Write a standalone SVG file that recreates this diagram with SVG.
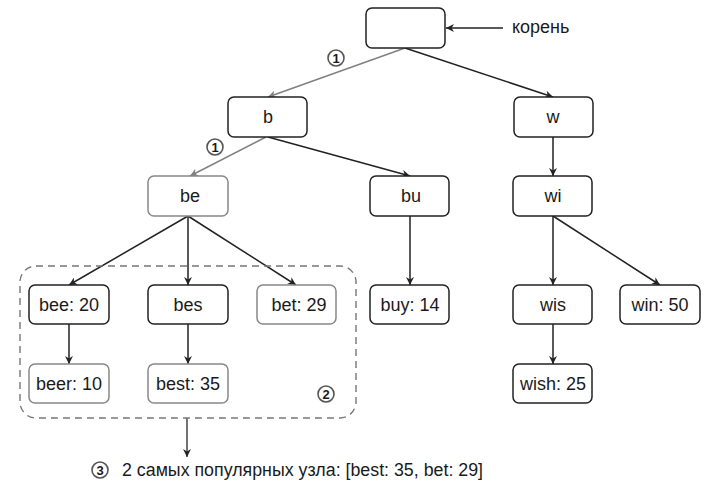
<svg xmlns="http://www.w3.org/2000/svg" width="707" height="488" viewBox="0 0 707 488">
<style>
text{font-family:"Liberation Sans",Arial,sans-serif;fill:#1a1a1a}
.n rect{fill:#fff;stroke:#222;stroke-width:1.5}
.g rect{stroke:#888}
.n text{font-size:18px;text-anchor:middle}
.e{stroke:#222;stroke-width:1.5;fill:none;marker-end:url(#ab)}
.eg{stroke:#808080;stroke-width:1.5;fill:none;marker-end:url(#ag)}
.c circle{fill:#fff;stroke:#555;stroke-width:1.6}
.c text{font-size:13px;font-weight:bold;text-anchor:middle}
</style>
<defs>
<marker id="ab" viewBox="0 0 10 10" refX="10" refY="5" markerWidth="8" markerHeight="8" markerUnits="userSpaceOnUse" orient="auto"><path d="M0,0 L10,5 L0,10 L3,5 z" fill="#222"/></marker>
<marker id="ag" viewBox="0 0 10 10" refX="10" refY="5" markerWidth="8" markerHeight="8" markerUnits="userSpaceOnUse" orient="auto"><path d="M0,0 L10,5 L0,10 L3,5 z" fill="#808080"/></marker>
</defs>
<g id="connectors">
<line class="e" x1="503" y1="28" x2="446" y2="28"/>
<line class="eg" x1="405" y1="48" x2="268" y2="97"/>
<line class="e" x1="405" y1="48" x2="553" y2="97"/>
<line class="eg" x1="266" y1="137" x2="190" y2="176"/>
<line class="e" x1="268" y1="137" x2="410" y2="176"/>
<line class="e" x1="553" y1="137" x2="553" y2="176"/>
<line class="e" x1="188" y1="216" x2="69" y2="285"/>
<line class="e" x1="188" y1="216" x2="188" y2="285"/>
<line class="e" x1="188" y1="216" x2="296" y2="285"/>
<line class="e" x1="69" y1="324" x2="69" y2="364"/>
<line class="e" x1="188" y1="324" x2="188" y2="364"/>
<line class="e" x1="410" y1="216" x2="410" y2="285"/>
<line class="e" x1="553" y1="216" x2="553" y2="285"/>
<line class="e" x1="553" y1="216" x2="660" y2="285"/>
<line class="e" x1="553" y1="324" x2="553" y2="364"/>
<line x1="187" y1="418" x2="187" y2="457" stroke="#444" stroke-width="1.5" marker-end="url(#ab)"/>
</g>
<rect id="group-box" x="20" y="266" width="336" height="152" rx="16" fill="none" stroke="#777" stroke-width="1.4" stroke-dasharray="7,5"/>
<g id="root" class="n"><rect x="366" y="8" width="79" height="40" rx="6"/></g>
<text x="512" y="33" font-size="18">корень</text>
<g id="n-b" class="n"><rect x="228" y="97" width="79" height="40" rx="6"/><text x="268" y="123">b</text></g>
<g id="n-w" class="n"><rect x="514" y="97" width="79" height="40" rx="6"/><text x="553" y="123">w</text></g>
<g id="n-be" class="n g"><rect x="148" y="176" width="80" height="40" rx="6"/><text x="190" y="202">be</text></g>
<g id="n-bu" class="n"><rect x="370" y="176" width="79" height="40" rx="6"/><text x="411" y="202">bu</text></g>
<g id="n-wi" class="n"><rect x="513" y="176" width="79" height="40" rx="6"/><text x="553" y="202">wi</text></g>
<g id="n-bee" class="n"><rect x="29" y="285" width="80" height="39" rx="6"/><text x="69" y="311">bee: 20</text></g>
<g id="n-bes" class="n"><rect x="148" y="285" width="80" height="39" rx="6"/><text x="188" y="311">bes</text></g>
<g id="n-bet" class="n g"><rect x="257" y="285" width="79" height="39" rx="6"/><text x="299" y="311">bet: 29</text></g>
<g id="n-buy" class="n"><rect x="370" y="285" width="79" height="39" rx="6"/><text x="410" y="311">buy: 14</text></g>
<g id="n-wis" class="n"><rect x="513" y="285" width="79" height="39" rx="6"/><text x="553" y="311">wis</text></g>
<g id="n-win" class="n"><rect x="620" y="285" width="80" height="39" rx="6"/><text x="660" y="311">win: 50</text></g>
<g id="n-beer" class="n g"><rect x="29" y="364" width="80" height="39" rx="6"/><text x="69" y="390">beer: 10</text></g>
<g id="n-best" class="n g"><rect x="148" y="364" width="80" height="39" rx="6"/><text x="188" y="390">best: 35</text></g>
<g id="n-wish" class="n"><rect x="513" y="364" width="79" height="39" rx="6"/><text x="553" y="390">wish: 25</text></g>
<g id="mark1a" class="c"><circle cx="336" cy="58" r="8"/><text x="336" y="62.5">1</text></g>
<g id="mark1b" class="c"><circle cx="215" cy="147" r="8"/><text x="215" y="151.5">1</text></g>
<g id="mark2" class="c"><circle cx="326" cy="394" r="8"/><text x="326" y="398.5">2</text></g>
<g id="mark3" class="c"><circle cx="100" cy="470" r="8"/><text x="100" y="474.5">3</text></g>
<text x="122" y="476" font-size="18" textLength="361" lengthAdjust="spacingAndGlyphs">2 самых популярных узла: [best: 35, bet: 29]</text>
</svg>
